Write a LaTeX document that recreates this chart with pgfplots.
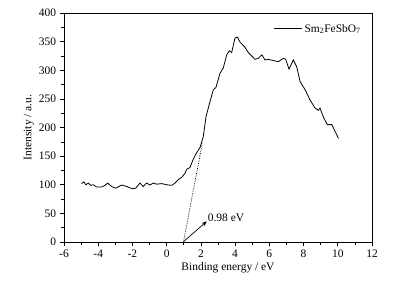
\documentclass[border=0pt]{standalone}
\usepackage{fontspec}
\setmainfont{Liberation Serif}
\usepackage{pgfplots}
\pgfplotsset{compat=1.18}
\usetikzlibrary{arrows.meta}
\begin{document}
\fontsize{11.5}{13}\selectfont
\begin{tikzpicture}
\begin{axis}[
  name=ax,
  scale only axis,
  width=308bp, height=229bp,
  xmin=-6, xmax=12, ymin=0, ymax=400,
  xtick={-6,-4,...,12}, ytick={0,50,...,400},
  minor x tick num=1, minor y tick num=1,
  tick align=outside, xtick pos=bottom, ytick pos=left,
  major tick length=4bp, minor tick length=2.5bp,
  /pgf/number format/assume math mode=true,
  xlabel={Binding energy / eV}, ylabel={Intensity / a.u.},
  xlabel style={xshift=10bp, yshift=3bp},
  ylabel style={yshift=-3bp},
  axis line style={line width=0.8pt},
  every tick/.style={black, line width=0.6pt},
  legend style={draw=none, fill=none, at={(0.98,0.97)}, anchor=north east, font=\fontsize{11.5}{13}\selectfont},
  legend image code/.code={\draw[#1] (0bp,0bp) -- (28bp,0bp);},
  clip=false,
]
\addplot[black, line width=0.8pt] coordinates {
(-4.97,102) (-4.84,105) (-4.72,100) (-4.58,103) (-4.45,99) (-4.29,100)
(-4.09,96) (-3.8,96) (-3.6,99) (-3.45,103) (-3.22,97) (-2.98,94)
(-2.63,99.5) (-2.34,97) (-2.01,93) (-1.81,94) (-1.56,103) (-1.37,97)
(-1.17,103) (-0.98,99.5) (-0.78,103) (-0.58,101) (-0.29,102) (0,100)
(0.29,99) (0.49,103) (0.68,109) (0.88,113) (1.07,120) (1.17,127)
(1.36,130) (1.56,145) (1.75,156) (1.95,165) (2.14,184) (2.30,219)
(2.53,245) (2.73,266) (2.88,270) (3.12,295) (3.31,304) (3.51,327)
(3.66,334) (3.80,331) (3.99,356) (4.13,358) (4.29,349) (4.39,346)
(4.58,340) (4.77,331) (4.97,325) (5.16,319) (5.36,321) (5.56,327)
(5.75,318) (5.94,319) (6.23,317) (6.53,315) (6.82,321) (6.96,319)
(7.15,302) (7.40,318) (7.6,306) (7.8,280) (8.09,266) (8.38,248)
(8.67,234) (8.87,230) (8.96,234) (9.16,218) (9.39,205) (9.65,205)
(9.78,197) (10.04,181)
};
\addlegendentry{Sm\textsubscript{2}FeSbO\textsubscript{7}}
\addplot[black, densely dotted, line width=0.7pt, forget plot] coordinates {(0.98,0) (2.08,172)};
\addplot[black, line width=0.7pt, -{Stealth[length=5bp,width=4bp]}, forget plot] coordinates {(1.0,1) (2.34,36)};
\node[anchor=west, inner sep=1bp] at (axis cs:2.34,42) {0.98 eV};
\end{axis}
\path ([xshift=-64bp,yshift=-40bp]ax.south west) rectangle ([xshift=47bp,yshift=13bp]ax.north east);
\end{tikzpicture}
\end{document}
